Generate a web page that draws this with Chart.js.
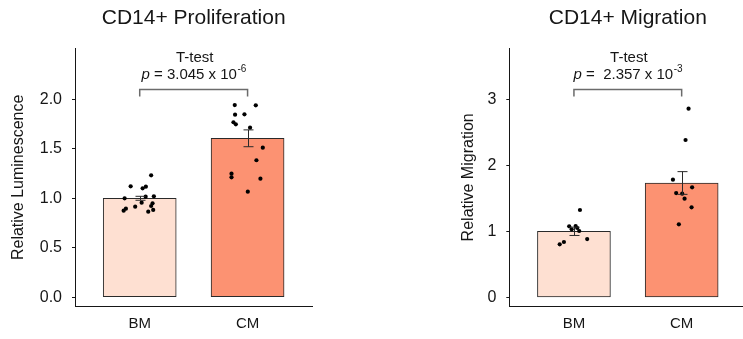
<!DOCTYPE html>
<html>
<head>
<meta charset="utf-8">
<script src="https://cdn.jsdelivr.net/npm/chart.js@4/dist/chart.umd.min.js"></script>
<style>
    html, body { margin: 0; padding: 0; width: 743px; height: 339px; overflow: hidden; background: #fff; }
    .panel { position: absolute; top: 0; width: 330px; height: 339px; }
    #prolif-wrap { left: 0; }
    #mig-wrap { left: 434px; }
</style>
</head>
<body>
<div class="panel" id="prolif-wrap"><canvas id="prolif-chart"></canvas></div>
<div class="panel" id="mig-wrap"><canvas id="mig-chart"></canvas></div>
<script>
// Groups on the x axis (placed at x = 1, 2)
const categories = ['BM', 'CM'];

// Proliferation: bar means, SEM, and the individual replicates (jitter in x units)
const prolifMeans = [1.0, 1.606];
const prolifSem = [0.02, 0.085];
const prolifBmValues = [1.232, 1.121, 1.101, 1.117, 1.0, 1.016, 1.02, 0.956, 0.915, 0.949, 0.922, 0.895, 0.875, 0.865, 0.882];
const prolifBmJitter = [0.106, -0.084, 0.027, 0.057, -0.14, 0.055, 0.131, 0.018, -0.042, 0.119, 0.106, -0.128, -0.149, 0.079, 0.125];
const prolifCmValues = [1.942, 1.939, 1.845, 1.848, 1.768, 1.747, 1.713, 1.511, 1.384, 1.249, 1.212, 1.198, 1.067];
const prolifCmJitter = [-0.119, 0.076, -0.116, -0.029, -0.131, -0.109, 0.023, 0.141, 0.082, -0.149, -0.149, 0.119, 0.002];
const prolifTicks = [0, 0.5, 1.0, 1.5, 2.0];

// Migration
const migMeans = [1.0, 1.732];
const migSem = [0.063, 0.172];
const migBmValues = [1.323, 1.076, 1.03, 1.08, 1.05, 1.005, 0.883, 0.838, 0.803];
const migBmJitter = [0.056, -0.044, -0.021, 0.016, 0.031, 0.049, 0.123, -0.093, -0.132];
const migCmValues = [2.858, 2.383, 1.782, 1.667, 1.58, 1.57, 1.494, 1.364, 1.106];
const migCmJitter = [0.064, 0.036, -0.081, 0.097, -0.051, 0.005, 0.027, 0.092, -0.026];
const migTicks = [0, 1, 2, 3];

const barColors = ['#fee0d2', '#fc9272'];
const FONT = "'Liberation Sans', Arial, sans-serif";
const INK = '#161616';

function toPoints(values, jitter, center) {
    return values.map((v, i) => ({ x: center + jitter[i], y: v }));
}

// error bars, significance bracket, test label and panel title
const annotate = {
    id: 'annotate',
    afterDatasetsDraw(chart, args, opts) {
        const { ctx, scales: { x, y } } = chart;
        ctx.save();
        ctx.strokeStyle = '#2a2a2a';
        ctx.lineWidth = 1;
        opts.means.forEach((m, i) => {
            const px = Math.round(x.getPixelForValue(i + 1)) + 0.5;
            const top = y.getPixelForValue(m + opts.sem[i]);
            const bot = y.getPixelForValue(m - opts.sem[i]);
            ctx.beginPath();
            ctx.moveTo(px, top); ctx.lineTo(px, bot);
            ctx.moveTo(px - 5, top); ctx.lineTo(px + 5, top);
            ctx.moveTo(px - 5, bot); ctx.lineTo(px + 5, bot);
            ctx.stroke();
        });
        ctx.restore();
    },
    afterDraw(chart, args, opts) {
        const { ctx, chartArea, scales: { x } } = chart;
        ctx.save();
        ctx.fillStyle = INK;
        ctx.textBaseline = 'middle';
        ctx.textAlign = 'center';

        ctx.font = '21px ' + FONT;
        ctx.fillText(opts.title, (chartArea.left + chartArea.right) / 2, 18);

        const x1 = x.getPixelForValue(1);
        const x2 = x.getPixelForValue(2);
        const cx = (x1 + x2) / 2;
        const by = chartArea.top + 41.5;

        ctx.strokeStyle = '#6b6b6b';
        ctx.lineWidth = 1.5;
        ctx.beginPath();
        ctx.moveTo(x1, by + 7); ctx.lineTo(x1, by); ctx.lineTo(x2, by); ctx.lineTo(x2, by + 7);
        ctx.stroke();

        ctx.font = '15px ' + FONT;
        ctx.fillText('T-test', cx + 1, chartArea.top + 9.5);

        // p = mantissa x 10^exp, with italic p and a raised exponent
        const ty = chartArea.top + 27;
        const italic = 'italic 15px ' + FONT;
        const normal = '15px ' + FONT;
        const small = '10px ' + FONT;
        const body = ' = ' + opts.pText + ' x 10';
        ctx.font = italic; const wp = ctx.measureText('p').width;
        ctx.font = normal; const wb = ctx.measureText(body).width;
        ctx.font = small; const we = ctx.measureText(opts.pExp).width;
        let sx = cx - (wp + wb + we) / 2;
        ctx.textAlign = 'left';
        ctx.font = italic; ctx.fillText('p', sx, ty); sx += wp;
        ctx.font = normal; ctx.fillText(body, sx, ty); sx += wb;
        ctx.font = small; ctx.fillText(opts.pExp, sx + 0.5, ty - 6);
        ctx.restore();
    }
};

function makeChart(id, cfg) {
    return new Chart(document.getElementById(id), {
        type: 'bar',
        data: {
            datasets: [
                {
                    type: 'scatter', order: 1,
                    data: toPoints(cfg.bmValues, cfg.bmJitter, 1),
                    pointRadius: 2.1, pointBackgroundColor: '#000', pointBorderWidth: 0
                },
                {
                    type: 'scatter', order: 1,
                    data: toPoints(cfg.cmValues, cfg.cmJitter, 2),
                    pointRadius: 2.1, pointBackgroundColor: '#000', pointBorderWidth: 0
                },
                {
                    type: 'bar', order: 2,
                    data: cfg.means.map((m, i) => ({ x: i + 1, y: m })),
                    backgroundColor: barColors,
                    borderColor: '#2a2a2a',
                    borderWidth: 1,
                    borderSkipped: false,
                    barThickness: 73
                }
            ]
        },
        options: {
            responsive: true,
            maintainAspectRatio: false,
            animation: false,
            layout: { padding: { top: 48, right: 17.7, left: 0, bottom: 0 } },
            plugins: {
                legend: { display: false },
                tooltip: { enabled: false },
                annotate: { title: cfg.title, means: cfg.means, sem: cfg.sem, pText: cfg.pText, pExp: cfg.pExp }
            },
            scales: {
                x: {
                    type: 'linear',
                    min: 0.4, max: 2.6,
                    offset: false,
                    grid: { display: false, offset: false, drawTicks: false },
                    border: { display: true, color: INK, width: 1 },
                    afterBuildTicks: s => { s.ticks = categories.map((c, i) => ({ value: i + 1 })); },
                    afterFit: s => { s.height = 32.3; },
                    ticks: {
                        padding: 8,
                        color: INK,
                        font: { family: FONT, size: 15 },
                        callback: v => categories[v - 1]
                    }
                },
                y: {
                    min: cfg.yMin, max: cfg.yMax,
                    grid: { drawOnChartArea: false, drawTicks: true, tickLength: 3, color: INK },
                    border: { display: true, color: INK, width: 1 },
                    afterBuildTicks: s => { s.ticks = cfg.ticks.map(v => ({ value: v })); },
                    afterFit: s => { s.width = cfg.axisWidth; },
                    ticks: {
                        padding: 10,
                        color: INK,
                        font: { family: FONT, size: 16 },
                        callback: cfg.tickFormat
                    },
                    title: {
                        display: true,
                        text: cfg.yTitle,
                        color: INK,
                        font: { family: FONT, size: 16 },
                        padding: { top: cfg.titlePad, bottom: 0 }
                    }
                }
            }
        },
        plugins: [annotate]
    });
}

makeChart('prolif-chart', {
    title: 'CD14+ Proliferation',
    yTitle: 'Relative Luminescence',
    means: prolifMeans, sem: prolifSem,
    bmValues: prolifBmValues, bmJitter: prolifBmJitter,
    cmValues: prolifCmValues, cmJitter: prolifCmJitter,
    ticks: prolifTicks, tickFormat: v => v.toFixed(1),
    yMin: -0.095, yMax: 2.518,
    axisWidth: 75, titlePad: 9.4,
    pText: '3.045', pExp: '-6'
});

makeChart('mig-chart', {
    title: 'CD14+ Migration',
    yTitle: 'Relative Migration',
    means: migMeans, sem: migSem,
    bmValues: migBmValues, bmJitter: migBmJitter,
    cmValues: migCmValues, cmJitter: migCmJitter,
    ticks: migTicks, tickFormat: v => String(v),
    yMin: -0.142, yMax: 3.777,
    axisWidth: 75.3, titlePad: 24.7,
    pText: ' 2.357', pExp: '-3'
});
</script>
</body>
</html>
